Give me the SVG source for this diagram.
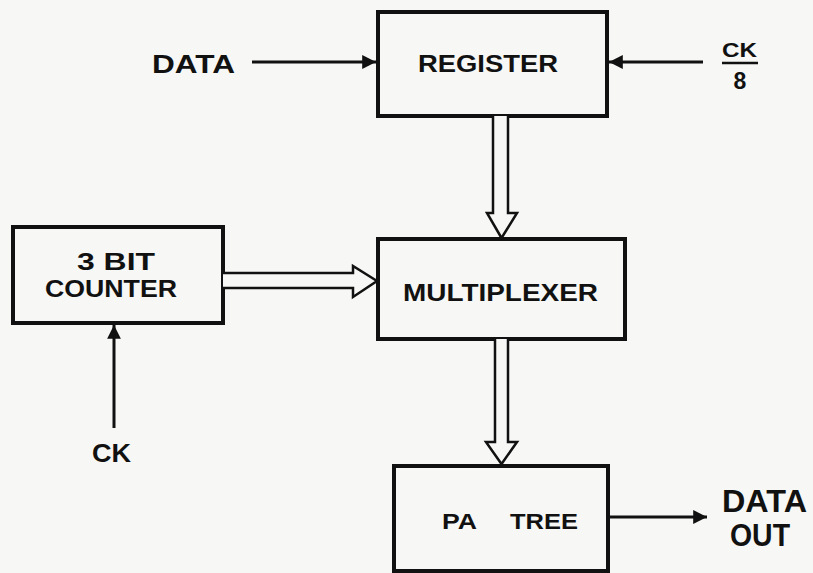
<svg xmlns="http://www.w3.org/2000/svg" width="813" height="573" viewBox="0 0 813 573">
<defs>
<style>
.box{fill:none;stroke:#111;stroke-width:4}
.ln{fill:none;stroke:#111;stroke-width:3}
.hol{fill:#f7f7f5;stroke:#111;stroke-width:2.5;stroke-linejoin:miter}
text{font-family:"Liberation Sans",Arial,sans-serif;font-weight:bold;fill:#111}
</style>
<marker id="ah" viewBox="0 0 10 10" refX="10" refY="5" markerWidth="7.5" markerHeight="4.6" markerUnits="strokeWidth" orient="auto">
<path d="M0,0 L10,5 L0,10 Z" fill="#111"/>
</marker>
</defs>
<rect width="813" height="573" fill="#f7f7f5"/>
<g id="register">
<rect class="box" x="378" y="12" width="229" height="104"/>
<text x="418" y="72" font-size="23" textLength="140" lengthAdjust="spacingAndGlyphs">REGISTER</text>
</g>
<g id="multiplexer">
<rect class="box" x="378" y="239" width="247" height="100"/>
<text x="403" y="301" font-size="23.5" textLength="195" lengthAdjust="spacingAndGlyphs">MULTIPLEXER</text>
</g>
<g id="counter">
<rect class="box" x="13" y="227" width="210" height="96"/>
<text x="77" y="270" font-size="23.5" textLength="78" lengthAdjust="spacingAndGlyphs">3 BIT</text>
<text x="45" y="297" font-size="24" textLength="132" lengthAdjust="spacingAndGlyphs">COUNTER</text>
</g>
<g id="patree">
<rect class="box" x="394" y="466" width="214" height="105"/>
<text x="442" y="529" font-size="22" textLength="35" lengthAdjust="spacingAndGlyphs">PA</text>
<text x="510" y="529" font-size="22" textLength="68" lengthAdjust="spacingAndGlyphs">TREE</text>
</g>
<g id="labels">
<text x="152" y="73" font-size="26" textLength="83" lengthAdjust="spacingAndGlyphs">DATA</text>
<text x="722" y="57" font-size="21" textLength="35" lengthAdjust="spacingAndGlyphs">CK</text>
<line x1="722" y1="63" x2="758" y2="63" stroke="#111" stroke-width="2.5"/>
<text x="740" y="89" font-size="23" text-anchor="middle">8</text>
<text x="92" y="462" font-size="26" textLength="39" lengthAdjust="spacingAndGlyphs">CK</text>
<text x="722" y="512" font-size="32" textLength="85" lengthAdjust="spacingAndGlyphs">DATA</text>
<text x="730" y="546" font-size="32" textLength="60" lengthAdjust="spacingAndGlyphs">OUT</text>
</g>
<g id="connectors">
<line class="ln" x1="252" y1="62" x2="376" y2="62" marker-end="url(#ah)"/>
<line class="ln" x1="703" y1="62" x2="609" y2="62" marker-end="url(#ah)"/>
<line class="ln" x1="114" y1="428" x2="114" y2="325" marker-end="url(#ah)"/>
<line class="ln" x1="608" y1="517" x2="707" y2="517" marker-end="url(#ah)"/>
<path class="hol" d="M493,116 L493,213 L487,213 L501.5,238 L517,213 L508,213 L508,116"/>
<path class="hol" d="M223,273 L353,273 L353,266 L377,281 L353,297 L353,288 L223,288"/>
<path class="hol" d="M495,339 L495,442 L486,442 L501.5,464 L517,442 L508,442 L508,339"/>
</g>
</svg>
